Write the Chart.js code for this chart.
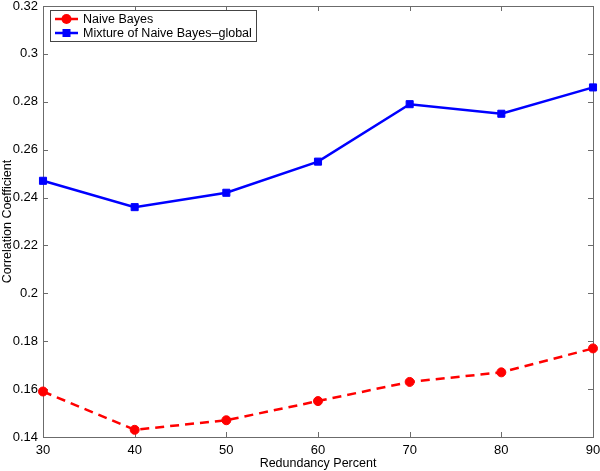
<!DOCTYPE html>
<html>
<head>
<meta charset="utf-8">
<script src="https://cdn.jsdelivr.net/npm/chart.js@4/dist/chart.umd.min.js"></script>
<style>
  html, body { margin: 0; padding: 0; background: #fff; }
  #wrap { width: 600px; height: 471px; }
</style>
</head>
<body>
<div id="wrap"><canvas id="chart" width="600" height="471"></canvas></div>
<script>
// valori
const redundanta = [30, 40, 50, 60, 70, 80, 90];
const naiveBayes = [0.159, 0.143, 0.147, 0.155, 0.163, 0.167, 0.177];
const mixturaGlobal = [0.247, 0.236, 0.242, 0.255, 0.279, 0.275, 0.286];
const yTicks = [0.14, 0.16, 0.18, 0.2, 0.22, 0.24, 0.26, 0.28, 0.3, 0.32];
const xTicks = [30, 40, 50, 60, 70, 80, 90];

const font = 'Liberation Sans, Arial, Helvetica, sans-serif';
const frameColor = '#6b6b6b';

function puncte(vals) {
    return redundanta.map((x, i) => ({ x: x, y: vals[i] }));
}

// rama + tick-uri spre interior (stil MATLAB)
const ramaPlugin = {
    id: 'rama',
    beforeDatasetsDraw(chart) {
        const { ctx, chartArea: a, scales } = chart;
        const len = 5;
        ctx.save();
        ctx.strokeStyle = frameColor;
        ctx.lineWidth = 1;
        ctx.beginPath();
        xTicks.forEach(v => {
            const px = Math.round(scales.x.getPixelForValue(v)) + 0.5;
            ctx.moveTo(px, a.bottom); ctx.lineTo(px, a.bottom - len);
            ctx.moveTo(px, a.top); ctx.lineTo(px, a.top + len);
        });
        yTicks.forEach(v => {
            const py = Math.round(scales.y.getPixelForValue(v)) + 0.5;
            ctx.moveTo(a.left, py); ctx.lineTo(a.left + len, py);
            ctx.moveTo(a.right, py); ctx.lineTo(a.right - len, py);
        });
        ctx.stroke();
        ctx.strokeRect(Math.round(a.left) + 0.5, Math.round(a.top) + 0.5,
            Math.round(a.right - a.left), Math.round(a.bottom - a.top));
        ctx.restore();
    }
};

// legenda in coltul stanga sus
const legendaPlugin = {
    id: 'legenda',
    afterDraw(chart) {
        const { ctx } = chart;
        const x0 = 50, y0 = 10, w = 206, h = 31;
        ctx.save();
        ctx.fillStyle = '#fff';
        ctx.fillRect(x0, y0, w, h);
        ctx.strokeStyle = '#444';
        ctx.lineWidth = 1;
        ctx.strokeRect(x0 + 0.5, y0 + 0.5, w, h);
        ctx.font = '12.5px ' + font;
        ctx.textBaseline = 'middle';
        chart.data.datasets.forEach((ds, i) => {
            const cy = y0 + 9 + i * 14;
            ctx.strokeStyle = ds.borderColor;
            ctx.lineWidth = 2.5;
            ctx.beginPath();
            ctx.moveTo(x0 + 5, cy); ctx.lineTo(x0 + 28, cy);
            ctx.stroke();
            ctx.fillStyle = ds.borderColor;
            if (ds.pointStyle === 'rect') {
                ctx.fillRect(x0 + 16.5 - 4, cy - 4, 8, 8);
            } else {
                ctx.beginPath();
                ctx.arc(x0 + 16.5, cy, 5, 0, Math.PI * 2);
                ctx.fill();
            }
            ctx.fillStyle = '#000';
            ctx.fillText(ds.label, x0 + 33, cy + 0.5);
        });
        ctx.restore();
    }
};

function faraPadding(s) {
    s.paddingTop = 0; s.paddingBottom = 0;
    s.paddingLeft = 0; s.paddingRight = 0;
}

new Chart(document.getElementById('chart'), {
    type: 'line',
    data: {
        datasets: [
            {
                label: 'Naive Bayes',
                data: puncte(naiveBayes),
                borderColor: '#ff0000',
                backgroundColor: '#ff0000',
                borderWidth: 2.5,
                borderDash: [9, 6],
                pointStyle: 'circle',
                pointRadius: 4.5,
                pointBorderWidth: 1,
                pointHoverRadius: 4.5,
                tension: 0,
                clip: false
            },
            {
                label: 'Mixture of Naive Bayes\u2013global',
                data: puncte(mixturaGlobal),
                borderColor: '#0000ff',
                backgroundColor: '#0000ff',
                borderWidth: 2.5,
                pointStyle: 'rect',
                pointRadius: 5,
                pointBorderWidth: 1,
                pointHoverRadius: 5,
                tension: 0,
                clip: false
            }
        ]
    },
    options: {
        responsive: false,
        animation: false,
        events: [],
        layout: { padding: { top: 5, right: 7, left: 0, bottom: 0 } },
        plugins: { legend: { display: false }, tooltip: { enabled: false } },
        scales: {
            x: {
                type: 'linear',
                min: 30, max: 90,
                afterFit: s => { s.height = 34; faraPadding(s); },
                afterBuildTicks: s => { s.ticks = xTicks.map(v => ({ value: v })); },
                grid: { display: false, drawTicks: false },
                border: { display: false },
                ticks: { color: '#000', font: { family: font, size: 13 }, padding: 6, maxRotation: 0 },
                title: { display: true, text: 'Redundancy Percent', color: '#000',
                         font: { family: font, size: 12.5 }, padding: { top: 0, bottom: 0 } }
            },
            y: {
                min: 0.14, max: 0.32,
                afterFit: s => { s.width = 43; faraPadding(s); },
                afterBuildTicks: s => { s.ticks = yTicks.map(v => ({ value: v })); },
                grid: { display: false, drawTicks: false },
                border: { display: false },
                ticks: { color: '#000', font: { family: font, size: 13 }, padding: 5,
                         callback: v => String(+v.toFixed(2)) },
                title: { display: true, text: 'Correlation Coefficient', color: '#000',
                         font: { family: font, size: 12.5 }, padding: { top: 0, bottom: 0 } }
            }
        }
    },
    plugins: [ramaPlugin, legendaPlugin]
});
</script>
</body>
</html>
